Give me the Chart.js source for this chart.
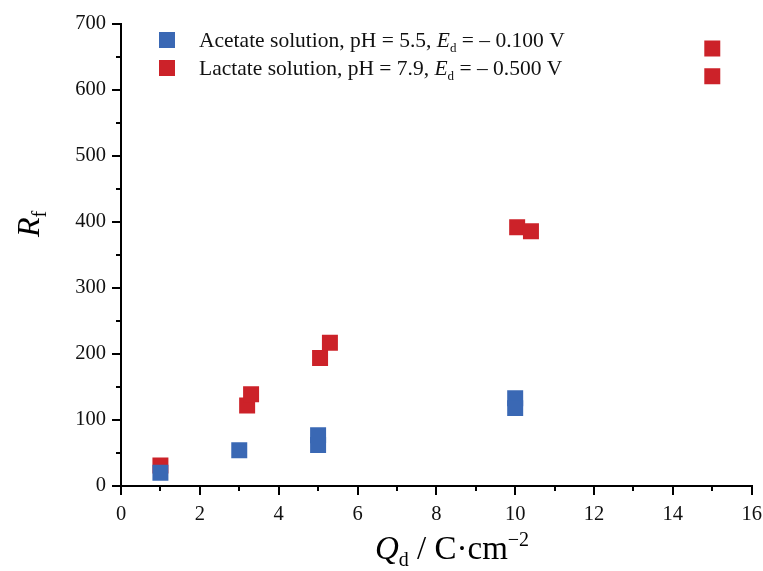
<!DOCTYPE html>
<html>
<head>
<meta charset="utf-8">
<script src="https://cdn.jsdelivr.net/npm/chart.js@4"></script>
<style>
  html, body { margin: 0; padding: 0; background: #fff; }
  #wrap { width: 763px; height: 571px; position: relative; }
</style>
</head>
<body>
<div id="wrap"><canvas id="chart"></canvas></div>
<script>
// data
const acetateX = [1, 3, 5, 5, 10, 10];
const acetateY = [20, 54, 77, 62, 133, 118];
const lactateX = [1, 3.2, 3.3, 5.05, 5.3, 10.05, 10.4, 15, 15];
const lactateY = [31, 122, 139, 194, 217, 392, 386, 663, 621];

const xTicks = [0, 2, 4, 6, 8, 10, 12, 14, 16];
const yTicks = [0, 100, 200, 300, 400, 500, 600, 700];

const blue = "#3a68b4";
const red = "#cc2229";
const SERIF = '"Liberation Serif", "DejaVu Serif", serif';

// legend rows: [text, style] pieces ("" normal, "i" italic, "s" subscript)
const legendRows = [
  [["Acetate solution, pH = 5.5, ", ""], ["E", "i"], ["d", "s"], [" = – 0.100 V", ""]],
  [["Lactate solution, pH = 7.9, ", ""], ["E", "i"], ["d", "s"], [" = – 0.500 V", ""]],
];

function toPoints(xs, ys) {
  return xs.map((x, i) => ({ x: x, y: ys[i] }));
}

// draws a run of text pieces, returns end x
function richText(ctx, pieces, x, y, size) {
  ctx.textBaseline = "alphabetic";
  ctx.textAlign = "left";
  pieces.forEach(([t, s]) => {
    if (s === "s") {
      ctx.font = Math.round(size * 0.62) + "px " + SERIF;
      ctx.fillText(t, x, y + size * 0.22);
    } else if (s === "sup") {
      ctx.font = Math.round(size * 0.62) + "px " + SERIF;
      ctx.fillText(t, x, y - size * 0.38);
    } else {
      ctx.font = (s === "i" ? "italic " : "") + size + "px " + SERIF;
      ctx.fillText(t, x, y);
    }
    x += ctx.measureText(t).width;
  });
  return x;
}

const extras = {
  id: "extras",
  afterDraw(chart) {
    const ctx = chart.ctx;
    const xs = chart.scales.x;
    const ys = chart.scales.y;
    ctx.save();
    ctx.strokeStyle = "#000";
    ctx.lineWidth = 2;

    // minor ticks
    ctx.beginPath();
    for (let i = 0; i < xTicks.length - 1; i++) {
      const px = Math.round(xs.getPixelForValue((xTicks[i] + xTicks[i + 1]) / 2));
      ctx.moveTo(px, xs.top);
      ctx.lineTo(px, xs.top + 5);
    }
    for (let i = 0; i < yTicks.length - 1; i++) {
      const py = Math.round(ys.getPixelForValue((yTicks[i] + yTicks[i + 1]) / 2));
      ctx.moveTo(ys.right, py);
      ctx.lineTo(ys.right - 5, py);
    }
    ctx.stroke();

    ctx.fillStyle = "#000";
    // x title
    const xPieces = [["Q", "i"], ["d", "s"], [" / C·cm", ""], ["−2", "sup"]];
    richText(ctx, xPieces, 375, 559, 33);

    // y title
    ctx.save();
    ctx.translate(39, 237);
    ctx.rotate(-Math.PI / 2);
    richText(ctx, [["R", "i"], ["f", "s"]], 0, 0, 32);
    ctx.restore();

    // legend
    const colors = [blue, red];
    legendRows.forEach((row, i) => {
      const cy = 40 + i * 28;
      ctx.fillStyle = colors[i];
      ctx.fillRect(159, cy - 8, 16, 16);
      ctx.fillStyle = "#111";
      richText(ctx, row, 199, cy + 7, 21.5);
    });
    ctx.restore();
  }
};

new Chart(document.getElementById("chart"), {
  type: "scatter",
  data: {
    datasets: [
      {
        label: "Acetate solution",
        data: toPoints(acetateX, acetateY),
        backgroundColor: blue,
        borderWidth: 0,
        pointStyle: "rect",
        pointRadius: 11.3,
      },
      {
        label: "Lactate solution",
        data: toPoints(lactateX, lactateY),
        backgroundColor: red,
        borderWidth: 0,
        pointStyle: "rect",
        pointRadius: 11.3,
      },
    ],
  },
  plugins: [extras],
  options: {
    responsive: true,
    maintainAspectRatio: false,
    animation: false,
    layout: { padding: { top: 24, right: 11, left: 0, bottom: 0 } },
    scales: {
      x: {
        type: "linear",
        min: 0,
        max: 16,
        afterFit: (s) => { s.height = 85; s.paddingLeft = 0; s.paddingRight = 0; },
        afterBuildTicks: (s) => { s.ticks = xTicks.map((v) => ({ value: v })); },
        ticks: { color: "#111", font: { family: SERIF, size: 20.5 }, padding: 7, maxRotation: 0 },
        grid: { drawOnChartArea: false, drawTicks: true, tickLength: 9, color: "#000", lineWidth: 2 },
        border: { display: true, color: "#000", width: 2 },
      },
      y: {
        type: "linear",
        min: 0,
        max: 700,
        afterFit: (s) => { s.width = 121; s.paddingTop = 0; s.paddingBottom = 0; },
        afterBuildTicks: (s) => { s.ticks = yTicks.map((v) => ({ value: v })); },
        ticks: { color: "#111", font: { family: SERIF, size: 20.5 }, padding: 6 },
        grid: { drawOnChartArea: false, drawTicks: true, tickLength: 9, color: "#000", lineWidth: 2 },
        border: { display: true, color: "#000", width: 2 },
      },
    },
    plugins: {
      legend: { display: false },
      tooltip: { enabled: false },
    },
  },
});
</script>
</body>
</html>
